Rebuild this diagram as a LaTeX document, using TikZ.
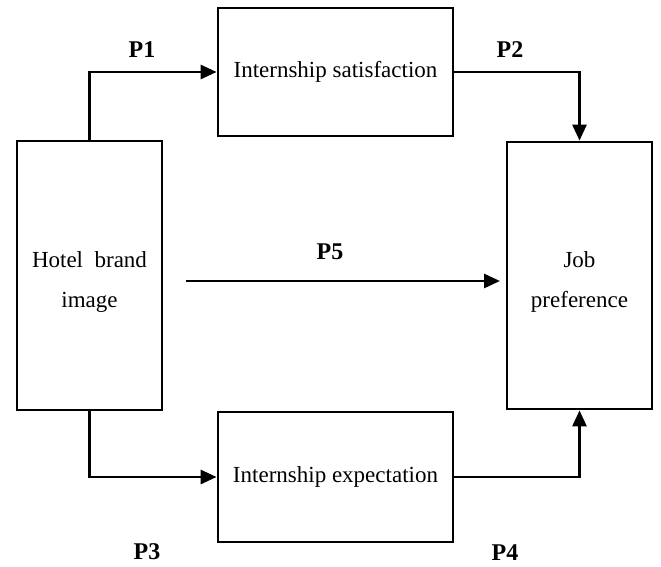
\documentclass[tikz,border=0pt]{standalone}
\usepackage{fontspec}
\setmainfont{Liberation Serif}
\usetikzlibrary{arrows.meta}
\tikzset{
  box/.style={draw, line width=2.8pt, inner sep=0pt, align=center, font=\fontsize{23}{40}\selectfont},
  link/.style={line width=2.8pt, -{Triangle[length=16pt,width=14pt]}},
  plabel/.style={font=\fontsize{24}{28}\selectfont\bfseries}
}
\begin{document}
\begin{tikzpicture}[x=1pt,y=-1pt]
\useasboundingbox (0,0) rectangle (661,567);
\node[box, minimum width=145pt, minimum height=269pt] (hotel) at (89.5,275.5) {\rule{0pt}{29pt}Hotel\ \ brand\\image};
\node[box, minimum width=145pt, minimum height=267pt] (job) at (579.5,275.5) {\rule{0pt}{29pt}Job\\preference};
\node[box, minimum width=235pt, minimum height=128pt] (sat) at (335.5,72) {Internship satisfaction};
\node[box, minimum width=235pt, minimum height=130pt] (exp) at (335.5,477) {Internship expectation};
\coordinate (p5s) at (186,281);
\coordinate (p5e) at (500,281);
\draw[link] (hotel.north) |- (sat.west);
\draw[link] (sat.east) -| (job.north);
\draw[link] (hotel.south) |- (exp.west);
\draw[link] (exp.east) -| (job.south);
\draw[link] (p5s) -- (p5e);
\node[plabel] (l1) at (142,50) {P1}; %label
\node[plabel] (l2) at (510,50) {P2}; %label
\node[plabel] (l3) at (147,552) {P3}; %label
\node[plabel] (l4) at (505,553) {P4}; %label
\node[plabel] (l5) at (330,252) {P5}; %label
\end{tikzpicture}
\end{document}
